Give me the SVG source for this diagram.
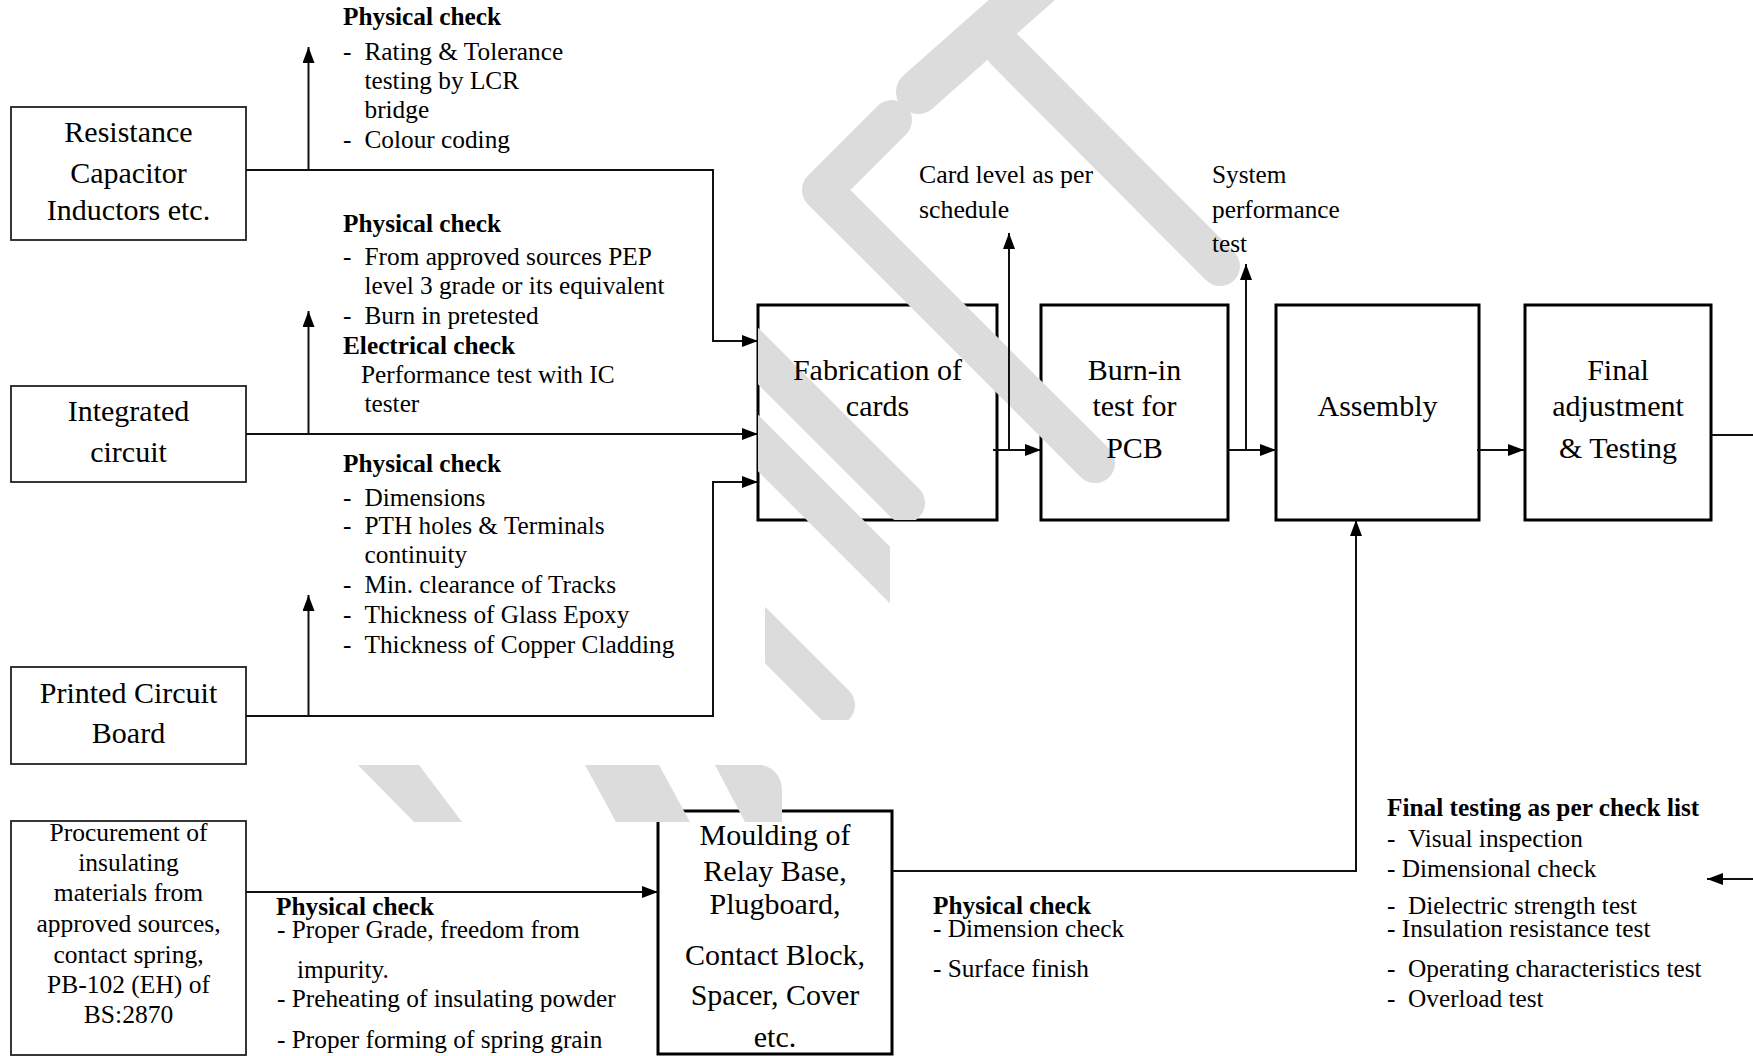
<svg xmlns="http://www.w3.org/2000/svg" width="1753" height="1056" viewBox="0 0 1753 1056">
<defs>
<style>
text{font-family:"Liberation Serif","Times New Roman",serif;fill:#000}
.big{font-size:30px;text-anchor:middle}
.mid{font-size:25.5px;text-anchor:middle}
.sm{font-size:25.3px}
.b{font-weight:bold}
.thin{fill:#fff;stroke:#222;stroke-width:1.8}
.thick{fill:#fff;stroke:#000;stroke-width:3}
.ln{fill:none;stroke:#111;stroke-width:2}
.wm{fill:none;stroke:#dcdcdc;stroke-linecap:round;stroke-linejoin:round}
.wmf{fill:#dcdcdc;stroke:none}
</style>
<marker id="ah" markerUnits="userSpaceOnUse" markerWidth="16" markerHeight="12" refX="16" refY="6" orient="auto">
<path d="M0,0 L16,6 L0,12 Z" fill="#000"/>
</marker>
<clipPath id="wmclip">
<rect x="700" y="0" width="600" height="305"/>
<rect x="758" y="305" width="470" height="215"/>
<rect x="765" y="520" width="125" height="200"/>
<rect x="300" y="765" width="500" height="57"/>
</clipPath>
</defs>
<rect width="1753" height="1056" fill="#fff"/>

<g id="nodes-boxes">
<g id="node-resistance"><rect class="thin" x="11" y="107" width="235" height="133"/></g>
<g id="node-ic"><rect class="thin" x="11" y="386" width="235" height="96"/></g>
<g id="node-pcb"><rect class="thin" x="11" y="667" width="235" height="97"/></g>
<g id="node-procurement"><rect class="thin" x="11" y="821" width="235" height="234"/></g>
<g id="node-moulding"><rect class="thick" x="658" y="811" width="234" height="243"/></g>
<g id="node-fabrication"><rect class="thick" x="758" y="305" width="239" height="215"/></g>
<g id="node-burnin"><rect class="thick" x="1041" y="305" width="187" height="215"/></g>
<g id="node-assembly"><rect class="thick" x="1276" y="305" width="203" height="215"/></g>
<g id="node-final"><rect class="thick" x="1525" y="305" width="186" height="215"/></g>
</g>

<g id="watermark" clip-path="url(#wmclip)">
<line class="wm" x1="1050" y1="-25" x2="918" y2="92" stroke-width="44"/>
<line class="wm" x1="1005" y1="50" x2="1220" y2="266" stroke-width="40"/>
<polyline class="wm" points="892,120 822,190 1095,463" stroke-width="40"/>
<line class="wm" x1="745" y1="343" x2="905" y2="503" stroke-width="40"/>
<line class="wm" x1="745" y1="430" x2="960" y2="645" stroke-width="40"/>
<line class="wm" x1="745" y1="615" x2="835" y2="705" stroke-width="40"/>
<polygon class="wmf" points="358,765 419,765 462,822 414,822"/>
<polygon class="wmf" points="585,765 659,765 690,822 616,822"/>
<path class="wmf" d="M715,765 L762,765 Q782,770 782,792 L782,822 L745,822 Z"/>
</g>

<g id="node-text">
<text class="big" x="128.5" y="142">Resistance</text>
<text class="big" x="128.5" y="183">Capacitor</text>
<text class="big" x="128.5" y="220">Inductors etc.</text>
<text class="big" x="128.5" y="421">Integrated</text>
<text class="big" x="128.5" y="462">circuit</text>
<text class="big" x="128.5" y="703">Printed Circuit</text>
<text class="big" x="128.5" y="743">Board</text>
<text class="mid" x="128.5" y="841">Procurement of</text>
<text class="mid" x="128.5" y="871">insulating</text>
<text class="mid" x="128.5" y="901">materials from</text>
<text class="mid" x="128.5" y="932">approved sources,</text>
<text class="mid" x="128.5" y="963">contact spring,</text>
<text class="mid" x="128.5" y="993">PB-102 (EH) of</text>
<text class="mid" x="128.5" y="1023">BS:2870</text>
<text class="big" x="775" y="845">Moulding of</text>
<text class="big" x="775" y="881">Relay Base,</text>
<text class="big" x="775" y="914">Plugboard,</text>
<text class="big" x="775" y="965">Contact Block,</text>
<text class="big" x="775" y="1005">Spacer, Cover</text>
<text class="big" x="775" y="1047">etc.</text>
<text class="big" x="877.5" y="380">Fabrication of</text>
<text class="big" x="877.5" y="416">cards</text>
<text class="big" x="1134.5" y="380">Burn-in</text>
<text class="big" x="1134.5" y="416">test for</text>
<text class="big" x="1134.5" y="458">PCB</text>
<text class="big" x="1377.5" y="416">Assembly</text>
<text class="big" x="1618" y="380">Final</text>
<text class="big" x="1618" y="416">adjustment</text>
<text class="big" x="1618" y="458">&amp; Testing</text>
</g>

<g id="connectors">
<polyline class="ln" points="246,170 713,170 713,341 758,341" marker-end="url(#ah)"/>
<line class="ln" x1="246" y1="434" x2="758" y2="434" marker-end="url(#ah)"/>
<polyline class="ln" points="246,716 713,716 713,482 758,482" marker-end="url(#ah)"/>
<line class="ln" x1="308.5" y1="170" x2="308.5" y2="47" marker-end="url(#ah)"/>
<line class="ln" x1="308.5" y1="434" x2="308.5" y2="311" marker-end="url(#ah)"/>
<line class="ln" x1="308.5" y1="716" x2="308.5" y2="595" marker-end="url(#ah)"/>
<line class="ln" x1="993" y1="450" x2="1041" y2="450" marker-end="url(#ah)"/>
<line class="ln" x1="1009" y1="450" x2="1009" y2="233" marker-end="url(#ah)"/>
<line class="ln" x1="1228" y1="450" x2="1276" y2="450" marker-end="url(#ah)"/>
<line class="ln" x1="1246" y1="450" x2="1246" y2="264" marker-end="url(#ah)"/>
<line class="ln" x1="1477" y1="450" x2="1524" y2="450" marker-end="url(#ah)"/>
<line class="ln" x1="1711" y1="435" x2="1753" y2="435"/>
<line class="ln" x1="1753" y1="879" x2="1707" y2="879" marker-end="url(#ah)"/>
<line class="ln" x1="246" y1="892" x2="658" y2="892" marker-end="url(#ah)"/>
<polyline class="ln" points="892,871 1356,871 1356,520" marker-end="url(#ah)"/>
</g>

<g id="labels">
<g id="label-rc">
<text class="sm b" x="343" y="25">Physical check</text>
<text class="sm" y="60"><tspan x="343">-</tspan><tspan x="364.5">Rating &amp; Tolerance</tspan></text>
<text class="sm" x="364.5" y="89">testing by LCR</text>
<text class="sm" x="364.5" y="118">bridge</text>
<text class="sm" y="148"><tspan x="343">-</tspan><tspan x="364.5">Colour coding</tspan></text>
</g>
<g id="label-ic">
<text class="sm b" x="343" y="232">Physical check</text>
<text class="sm" y="265"><tspan x="343">-</tspan><tspan x="364.5">From approved sources PEP</tspan></text>
<text class="sm" x="364.5" y="294">level 3 grade or its equivalent</text>
<text class="sm" y="324"><tspan x="343">-</tspan><tspan x="364.5">Burn in pretested</tspan></text>
<text class="sm b" x="343" y="354">Electrical check</text>
<text class="sm" x="361" y="383">Performance test with IC</text>
<text class="sm" x="364.5" y="412">tester</text>
</g>
<g id="label-pcb">
<text class="sm b" x="343" y="472">Physical check</text>
<text class="sm" y="506"><tspan x="343">-</tspan><tspan x="364.5">Dimensions</tspan></text>
<text class="sm" y="534"><tspan x="343">-</tspan><tspan x="364.5">PTH holes &amp; Terminals</tspan></text>
<text class="sm" x="364.5" y="563">continuity</text>
<text class="sm" y="593"><tspan x="343">-</tspan><tspan x="364.5">Min. clearance of Tracks</tspan></text>
<text class="sm" y="623"><tspan x="343">-</tspan><tspan x="364.5">Thickness of Glass Epoxy</tspan></text>
<text class="sm" y="653"><tspan x="343">-</tspan><tspan x="364.5">Thickness of Copper Cladding</tspan></text>
</g>
<g id="label-card">
<text class="sm" x="919" y="183" style="font-size:25.8px">Card level as per</text>
<text class="sm" x="919" y="218" style="font-size:25.8px">schedule</text>
</g>
<g id="label-system">
<text class="sm" x="1212" y="183" style="font-size:25.3px">System</text>
<text class="sm" x="1212" y="218" style="font-size:25.3px">performance</text>
<text class="sm" x="1212" y="252" style="font-size:25.3px">test</text>
</g>
<g id="label-procure">
<text class="sm b" x="276" y="915">Physical check</text>
<text class="sm" x="277" y="938">- Proper Grade, freedom from</text>
<text class="sm" x="297" y="978">impurity.</text>
<text class="sm" x="277" y="1007">- Preheating of insulating powder</text>
<text class="sm" x="277" y="1048">- Proper forming of spring grain</text>
</g>
<g id="label-moulding">
<text class="sm b" x="933" y="914">Physical check</text>
<text class="sm" x="933" y="937">- Dimension check</text>
<text class="sm" x="933" y="977">- Surface finish</text>
</g>
<g id="label-final">
<text class="sm b" x="1387" y="816">Final testing as per check list</text>
<text class="sm" y="847"><tspan x="1387">-</tspan><tspan x="1408">Visual inspection</tspan></text>
<text class="sm" x="1387" y="877">- Dimensional check</text>
<text class="sm" y="914"><tspan x="1387">-</tspan><tspan x="1408">Dielectric strength test</tspan></text>
<text class="sm" x="1387" y="937">- Insulation resistance test</text>
<text class="sm" y="977"><tspan x="1387">-</tspan><tspan x="1408">Operating characteristics test</tspan></text>
<text class="sm" y="1007"><tspan x="1387">-</tspan><tspan x="1408">Overload test</tspan></text>
</g>
</g>
</svg>
